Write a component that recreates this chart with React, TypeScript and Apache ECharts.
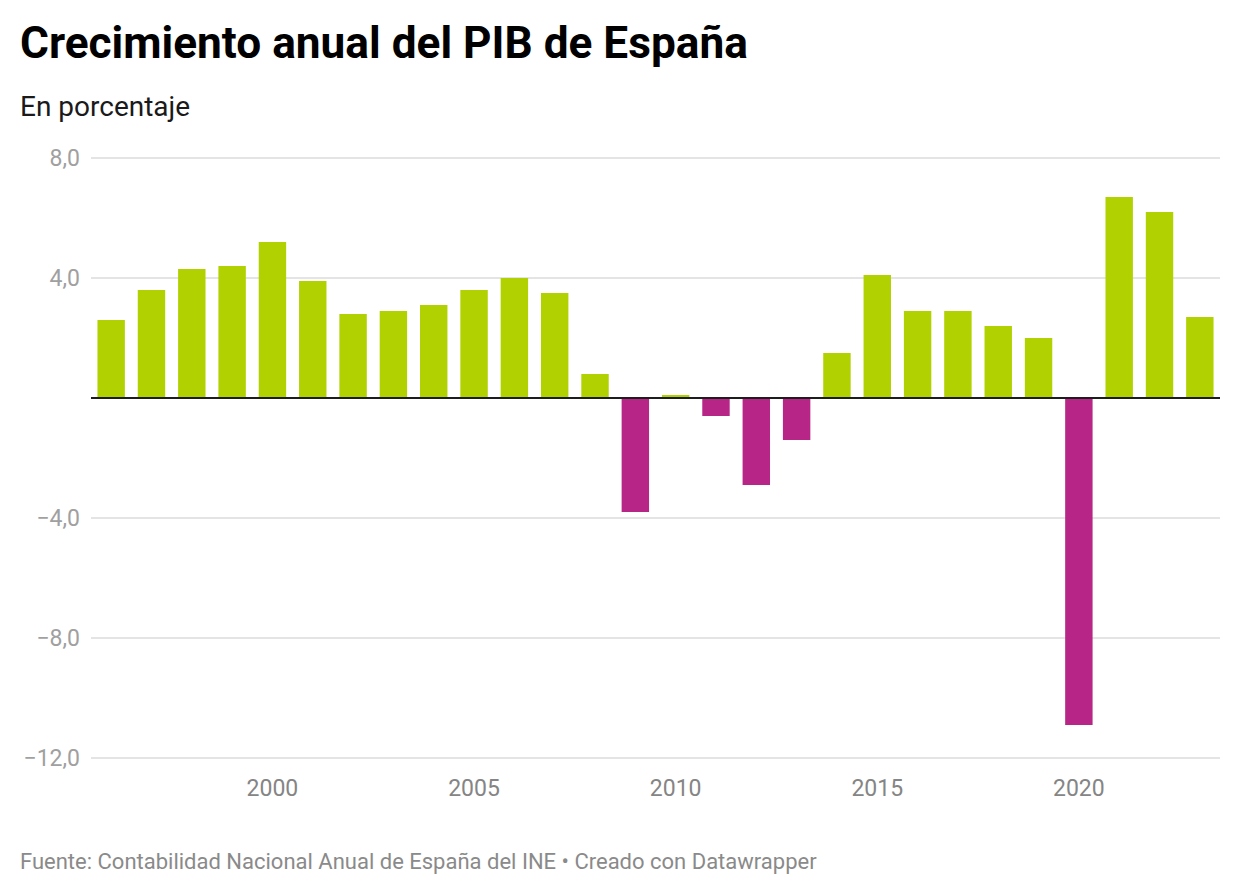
import React, { useEffect, useRef } from "react";
import * as echarts from "echarts";

const years: string[] = [
  "1996", "1997", "1998", "1999", "2000", "2001", "2002", "2003", "2004", "2005",
  "2006", "2007", "2008", "2009", "2010", "2011", "2012", "2013", "2014", "2015",
  "2016", "2017", "2018", "2019", "2020", "2021", "2022", "2023",
];
const growth: number[] = [
  2.6, 3.6, 4.3, 4.4, 5.2, 3.9, 2.8, 2.9, 3.1, 3.6,
  4.0, 3.5, 0.8, -3.8, 0.1, -0.6, -2.9, -1.4, 1.5, 4.1,
  2.9, 2.9, 2.4, 2.0, -10.9, 6.7, 6.2, 2.7,
];
const yTicks: number[] = [-12, -8, -4, 0, 4, 8];

const TITLE = "Crecimiento anual del PIB de España";
const SUBTITLE = "En porcentaje";
const FOOTER = "Fuente: Contabilidad Nacional Anual de España del INE • Creado con Datawrapper";

const GREEN = "#b1d100";
const MAGENTA = "#b72687";
const FONT = "Roboto, 'Noto Sans', sans-serif";

export default function App() {
  const ref = useRef<HTMLDivElement>(null);
  useEffect(() => {
    if (!ref.current) return;
    const chart = echarts.init(ref.current, null, { renderer: "svg" });
    const option: any = {
      animation: false,
      backgroundColor: "#ffffff",
      textStyle: { fontFamily: FONT },
      grid: { left: 91, right: 20, top: 158, bottom: 138, containLabel: false },
      xAxis: {
        type: "category",
        data: years,
        axisLine: { show: false },
        axisTick: { show: false },
        axisLabel: {
          interval: (_i: number, v: string) => Number(v) % 5 === 0,
          color: "#858585",
          fontSize: 23,
          fontFamily: FONT,
          margin: 19,
        },
      },
      yAxis: {
        type: "value",
        min: yTicks[0],
        max: yTicks[yTicks.length - 1],
        interval: 4,
        axisLine: { show: false },
        axisTick: { show: false },
        splitLine: { lineStyle: { color: "#e4e4e4", width: 2 } },
        axisLabel: {
          color: "#a0a0a0",
          fontSize: 23,
          fontFamily: FONT,
          margin: 11,
          formatter: (v: number) =>
            v === 0 ? "" : (v < 0 ? "\u2212" : "") + Math.abs(v).toFixed(1).replace(".", ","),
        },
      },
      series: [
        {
          type: "bar",
          data: growth,
          barCategoryGap: "32%",
          itemStyle: {
            color: (p: any) => (p.value < 0 ? MAGENTA : GREEN),
          },
          markLine: {
            silent: true,
            symbol: "none",
            label: { show: false },
            lineStyle: { color: "#1d1d1d", width: 2, type: "solid" },
            data: [{ yAxis: 0 }],
          },
        },
      ],
      graphic: [
        {
          type: "text",
          left: 20,
          top: 21,
          style: { text: TITLE, fontSize: 44.2, fontWeight: "bold", fill: "#000000", fontFamily: FONT },
        },
        {
          type: "text",
          left: 20,
          top: 92,
          style: { text: SUBTITLE, fontSize: 28, fill: "#1a1a1a", fontFamily: FONT },
        },
        {
          type: "text",
          left: 20,
          top: 850,
          style: { text: FOOTER, fontSize: 22, fill: "#8a8a8a", fontFamily: FONT },
        },
      ],
    };
    chart.setOption(option);
    return () => chart.dispose();
  }, []);
  return (
    <div
      ref={ref}
      style={{ position: "fixed", left: 0, top: 0, width: 1240, height: 896, background: "#fff" }}
    />
  );
}
